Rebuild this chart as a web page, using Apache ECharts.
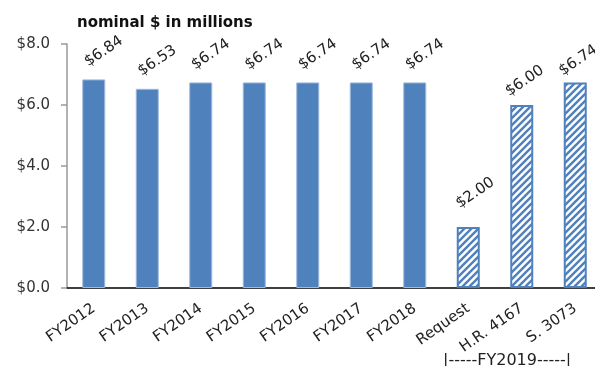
<!DOCTYPE html>
<html>
<head>
<meta charset="utf-8">
<script src="https://cdn.jsdelivr.net/npm/echarts@6/dist/echarts.min.js"></script>
<style>
  html, body { margin: 0; padding: 0; background: #fff; }
  #chart { width: 595px; height: 366px; }
</style>
</head>
<body>
<div id="chart"></div>
<script>
// data
var categories = ['FY2012', 'FY2013', 'FY2014', 'FY2015', 'FY2016', 'FY2017', 'FY2018', 'Request', 'H.R. 4167', 'S. 3073'];
var values = [6.84, 6.53, 6.74, 6.74, 6.74, 6.74, 6.74, 2.00, 6.00, 6.74];
var fy2019 = ['Request', 'H.R. 4167', 'S. 3073']; // hatched bars
var yTicks = [0, 2, 4, 6, 8];

var blue = '#4f81bd';
var font = 'DejaVu Sans';
var labelRot = 34;

// diagonal stripe pattern for the FY2019 bars
function makeHatch() {
  var c = document.createElement('canvas');
  var s = 7;
  c.width = s; c.height = s;
  var g = c.getContext('2d');
  g.fillStyle = '#fff';
  g.fillRect(0, 0, s, s);
  g.strokeStyle = blue;
  g.lineWidth = 2.4;
  g.beginPath();
  g.moveTo(-1, s + 1); g.lineTo(s + 1, -1);
  g.moveTo(-1, 1); g.lineTo(1, -1);
  g.moveTo(s - 1, s + 1); g.lineTo(s + 1, s - 1);
  g.stroke();
  return c;
}
var hatch = makeHatch();

// label offset is applied in the rotated frame; convert a screen shift into it
function labelOffset(dx, dy) {
  var a = labelRot * Math.PI / 180;
  return [dx * Math.cos(a) - dy * Math.sin(a), dx * Math.sin(a) + dy * Math.cos(a)];
}
var fy2019Shift = {'Request': [7, -34], 'H.R. 4167': [3, -24], 'S. 3073': [3, -22]};

var barData = values.map(function (v, i) {
  var item = {value: v};
  if (fy2019.indexOf(categories[i]) >= 0) {
    var sh = fy2019Shift[categories[i]];
    item.itemStyle = {
      color: {image: hatch, repeat: 'repeat'},
      borderColor: blue,
      borderWidth: 2
    };
    item.label = {offset: labelOffset(sh[0], sh[1])};
  }
  return item;
});

var chart = echarts.init(document.getElementById('chart'));
chart.setOption({
  animation: false,
  textStyle: {fontFamily: font},
  title: {
    text: 'nominal $ in millions',
    left: 72,
    top: 11,
    textStyle: {fontSize: 15, fontWeight: 'bold', color: '#111', fontFamily: font}
  },
  graphic: [{
    type: 'text',
    left: 443,
    top: 353,
    style: {text: '|-----FY2019-----|', fontSize: 16, fill: '#222', fontFamily: font}
  }],
  grid: {left: 67, width: 535, top: 44, height: 244, containLabel: false, outerBoundsMode: 'none'},
  xAxis: {
    type: 'category',
    data: categories,
    axisTick: {show: false},
    axisLine: {lineStyle: {color: '#000', width: 1.5}},
    axisLabel: {
      rotate: 35,
      interval: 0,
      margin: 19,
      fontSize: 15,
      color: '#222'
    }
  },
  yAxis: {
    type: 'value',
    min: yTicks[0],
    max: yTicks[yTicks.length - 1],
    interval: 2,
    axisLine: {show: true, lineStyle: {color: '#999', width: 1.5}},
    axisTick: {show: true, inside: false, length: 6, lineStyle: {color: '#999', width: 1.5}},
    splitLine: {show: false},
    axisLabel: {
      fontSize: 15,
      color: '#333',
      margin: 17,
      formatter: function (v) { return '$' + v.toFixed(1); }
    }
  },
  series: [{
    type: 'bar',
    data: barData,
    barWidth: 23,
    itemStyle: {color: blue, borderColor: '#9fb9dc', borderWidth: 1},
    label: {
      show: true,
      position: 'top',
      distance: 0,
      rotate: labelRot,
      align: 'center',
      verticalAlign: 'middle',
      offset: labelOffset(10, -28),
      fontSize: 15,
      color: '#222',
      formatter: function (p) { return '$' + p.value.toFixed(2); }
    }
  }]
});
</script>
</body>
</html>
